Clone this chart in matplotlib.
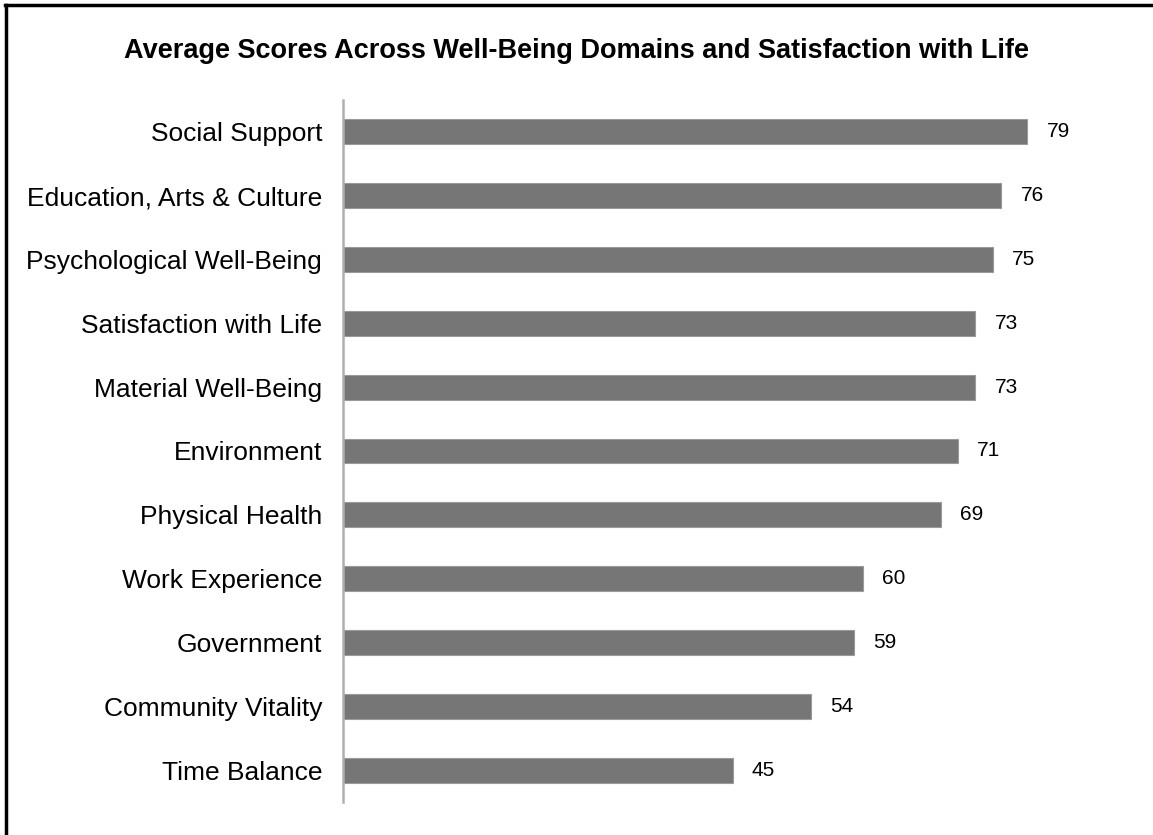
import numpy as np
import matplotlib.pyplot as plt
from matplotlib.lines import Line2D

plt.rcParams['font.family'] = ['Liberation Sans', 'DejaVu Sans']

# domains, top to bottom
domains = ["Social Support", "Education, Arts & Culture", "Psychological Well-Being",
           "Satisfaction with Life", "Material Well-Being", "Environment",
           "Physical Health", "Work Experience", "Government",
           "Community Vitality", "Time Balance"]
scores = [79, 76, 75, 73, 73, 71, 69, 60, 59, 54, 45]

W, H = 1153, 835
fig = plt.figure(figsize=(W / 100, H / 100), dpi=100)
fig.patch.set_facecolor('white')

# axes placed in pixels: y-axis at x=343, rows span y=100..802
ax = fig.add_axes([343 / W, (H - 802) / H, 797 / W, 702 / H])

ypos = np.arange(len(domains))
ax.barh(ypos, scores, height=0.39, color='#767676', edgecolor='#9a9a9a', linewidth=0.8)
ax.set_ylim(len(domains) - 0.5, -0.5)
ax.set_xlim(0, 92)

for y, v in zip(ypos, scores):
    ax.text(v + 2.2, y, str(v), va='center', ha='left', fontsize=15, color='black')

ax.set_yticks(ypos)
ax.set_yticklabels(domains, fontsize=19)
ax.tick_params(axis='y', length=0, pad=15)
ax.set_xticks([])
for s in ['top', 'right', 'bottom']:
    ax.spines[s].set_visible(False)
ax.spines['left'].set_color('#b0b0b0')
ax.spines['left'].set_linewidth(1.8)

fig.text(576 / W, 1 - 51 / H, "Average Scores Across Well-Being Domains and Satisfaction with Life",
         ha='center', va='center', fontsize=19.5, fontweight='bold')

# frame on top and left edges
fig.add_artist(Line2D([5.5 / W, 5.5 / W], [0, 1 - 5 / H], transform=fig.transFigure,
                      color='black', linewidth=2.5))
fig.add_artist(Line2D([4.5 / W, 1], [1 - 5 / H, 1 - 5 / H], transform=fig.transFigure,
                      color='black', linewidth=2.5))

fig.savefig('out.png', dpi=100)
